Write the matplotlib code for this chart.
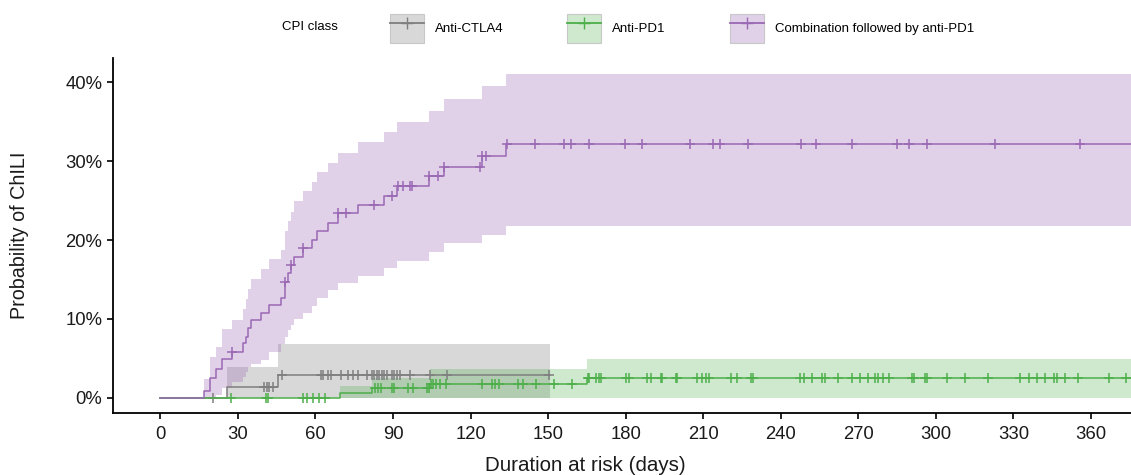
import numpy as np
import matplotlib
matplotlib.use("Agg")
import matplotlib.pyplot as plt
from matplotlib.patches import Patch
from matplotlib.lines import Line2D
from matplotlib.legend_handler import HandlerTuple
from matplotlib.ticker import FuncFormatter

plt.rcParams['font.family'] = ['Liberation Sans', 'DejaVu Sans']

# ---------------- data (days, percent) ----------------
groups = ["Anti-CTLA4", "Anti-PD1", "Combination followed by anti-PD1"]
legend_title = "CPI class"

# Combination followed by anti-PD1
combo_event_t = [16.9, 19.2, 21.5, 23.7, 27.6, 32.1, 33.0, 34.0, 35.1, 39.0, 42.0, 46.8, 48.3, 49.5,
                 50.5, 51.8, 55.2, 58.7, 60.7, 64.8, 68.6, 76.6, 86.5, 91.4, 103.9, 109.9, 124.6, 133.9]
combo_est = [0.9, 2.5, 3.7, 4.9, 5.8, 6.9, 7.7, 8.8, 9.8, 10.7, 11.8, 12.7, 14.7, 15.8,
             16.8, 17.9, 19.0, 20.0, 21.1, 22.2, 23.4, 24.5, 25.6, 26.9, 28.1, 29.3, 30.7, 32.2]
combo_upper = [2.4, 5.2, 6.4, 8.7, 9.9, 11.3, 12.5, 13.8, 15.0, 16.3, 17.6, 18.8, 21.1, 22.4,
               23.6, 24.9, 26.2, 27.4, 28.6, 29.8, 31.1, 32.4, 33.7, 35.0, 36.4, 37.9, 39.5, 41.1]
combo_lower = [0.0, 0.0, 0.3, 1.2, 2.0, 2.6, 3.3, 3.9, 4.3, 4.8, 5.8, 6.8, 7.7, 8.6,
               9.2, 10.0, 10.8, 11.6, 12.7, 13.7, 14.6, 15.5, 16.4, 17.4, 18.5, 19.6, 20.7, 21.8]
combo_censor = [27.6, 48.3, 50.5, 55.2, 68.6, 71.7, 82.8, 89.7, 91.8, 93.8, 96.6, 97.5, 103.9, 107.5,
                109.9, 123.7, 124.6, 126.0, 134.1, 145.0, 156.0, 158.8, 165.9, 179.6, 186.4, 205.0,
                213.7, 216.5, 227.3, 247.8, 253.7, 267.4, 284.8, 289.7, 296.5, 322.7, 355.9]
combo_end = 380

# Anti-CTLA4
ctla4_event_t = [25.9, 45.6]
ctla4_est = [1.3, 2.9]
ctla4_upper = [3.9, 6.8]
ctla4_lower = [0.0, 0.0]
ctla4_censor = [20.3, 40.1, 41.2, 42.2, 43.5, 47.0, 62.2, 62.8, 65.0, 65.9, 69.9, 72.7, 74.7, 76.6,
                79.8, 81.8, 82.7, 83.7, 84.6, 85.6, 86.7, 87.6, 89.7, 90.5, 91.4, 92.7, 96.6,
                104.5, 111.0, 150.5]
ctla4_end = 150.7

# Anti-PD1
pd1_event_t = [69.5, 81.8, 104.4, 164.9]
pd1_est = [0.56, 1.19, 1.76, 2.54]
pd1_upper = [1.5, 2.5, 3.6, 4.9]
pd1_lower = [0.0, 0.0, 0.0, 0.0]
pd1_censor = [27.2, 40.9, 41.8, 55.1, 56.9, 59.0, 61.5, 63.7, 83.0, 84.0, 85.3, 89.7, 90.5, 95.9,
              97.9, 103.1, 104.1, 104.7, 105.6, 106.7, 108.2, 110.5, 124.3, 128.2, 129.5, 131.1,
              138.5, 140.2, 145.3, 152.3, 159.4, 165.3, 165.9, 168.5, 169.5, 170.4, 180.0, 181.3,
              188.4, 189.7, 193.5, 194.1, 199.3, 199.9, 207.6, 209.5, 210.9, 212.2, 220.9, 223.1,
              228.3, 229.2, 247.6, 248.9, 252.1, 255.9, 257.0, 262.0, 267.5, 270.7, 273.7, 276.5,
              277.8, 279.5, 281.9, 290.6, 291.7, 295.8, 296.7, 304.5, 311.2, 320.2, 332.4, 335.9,
              339.1, 342.1, 345.9, 346.9, 350.1, 354.9, 366.9, 373.6]
pd1_end = 380

x_ticks = list(range(0, 361, 30))
y_ticks = [0, 10, 20, 30, 40]

# ---------------- styling ----------------
line_colors = {"Anti-CTLA4": "#7f7f7f", "Anti-PD1": "#4daf4a",
               "Combination followed by anti-PD1": "#9a68b4"}
band_alpha = {"Anti-CTLA4": 0.3, "Anti-PD1": 0.27, "Combination followed by anti-PD1": 0.3}

fig = plt.figure(figsize=(11.31, 4.75), dpi=100)
ax = fig.add_axes([0.1002, 0.1299, 0.8998, 0.748])


def draw(name, ev_t, est, lo, hi, cens, end):
    t = np.array([0.0] + list(ev_t) + [end])
    e = np.array([0.0] + list(est) + [est[-1]]) / 100
    l = np.array([0.0] + list(lo) + [lo[-1]]) / 100
    h = np.array([0.0] + list(hi) + [hi[-1]]) / 100
    c = line_colors[name]
    ax.fill_between(t, l, h, step='post', color=c, alpha=band_alpha[name], lw=0)
    ax.step(t, e, where='post', color=c, lw=1.1)
    cs = np.array(cens)
    idx = np.searchsorted(t, cs, side='right') - 1
    ax.plot(cs, e[idx], ls='none', marker='+', ms=7, mew=1.1, color=c)


draw("Anti-CTLA4", ctla4_event_t, ctla4_est, ctla4_lower, ctla4_upper, ctla4_censor, ctla4_end)
draw("Anti-PD1", pd1_event_t, pd1_est, pd1_lower, pd1_upper, pd1_censor, pd1_end)
draw("Combination followed by anti-PD1", combo_event_t, combo_est, combo_lower, combo_upper,
     combo_censor, combo_end)

ax.set_xlim(-18.2, 375.5)
ax.set_ylim(-0.0198, 0.431)
ax.set_xticks(x_ticks)
ax.set_yticks([v / 100 for v in y_ticks])
ax.yaxis.set_major_formatter(FuncFormatter(lambda v, p: f"{v*100:.0f}%"))
for s in ['top', 'right']:
    ax.spines[s].set_visible(False)
for s in ['left', 'bottom']:
    ax.spines[s].set_linewidth(1.3)
    ax.spines[s].set_color('black')
ax.tick_params(axis='both', labelsize=13.3, length=4.5, width=1.2, color='black', labelcolor='#1a1a1a')
ax.tick_params(axis='x', pad=5)
ax.set_xlabel("Duration at risk (days)", fontsize=14.8, color='#1a1a1a')
ax.set_ylabel("Probability of ChILI", fontsize=14.2, color='#1a1a1a')
ax.xaxis.set_label_coords(0.464, -0.121)
ax.yaxis.set_label_coords(-0.083, 0.5)

# ---------------- legend ----------------
handles = []
for g in groups:
    c = line_colors[g]
    p = Patch(facecolor=c, alpha=band_alpha[g], edgecolor='none')
    pe = Patch(facecolor='none', edgecolor='#c8c8c8', lw=0.8)
    ln = Line2D([], [], color=c, lw=1.3, marker='+', ms=8, mew=1.0)
    handles.append((p, pe, ln))
fig.text(282.2 / 1131, 1 - 27.5 / 475, legend_title, fontsize=9.5, va='center', ha='left')
fig.legend(handles, groups, loc='center left', bbox_to_anchor=(389.8 / 1131, 1 - 28.5 / 475),
           ncol=3, frameon=False, fontsize=9.5, handlelength=2.58, handleheight=3.12,
           handletextpad=0.83, columnspacing=4.85, borderpad=0, borderaxespad=0,
           handler_map={tuple: HandlerTuple(ndivide=1)})

fig.savefig("out.png", dpi=100)
